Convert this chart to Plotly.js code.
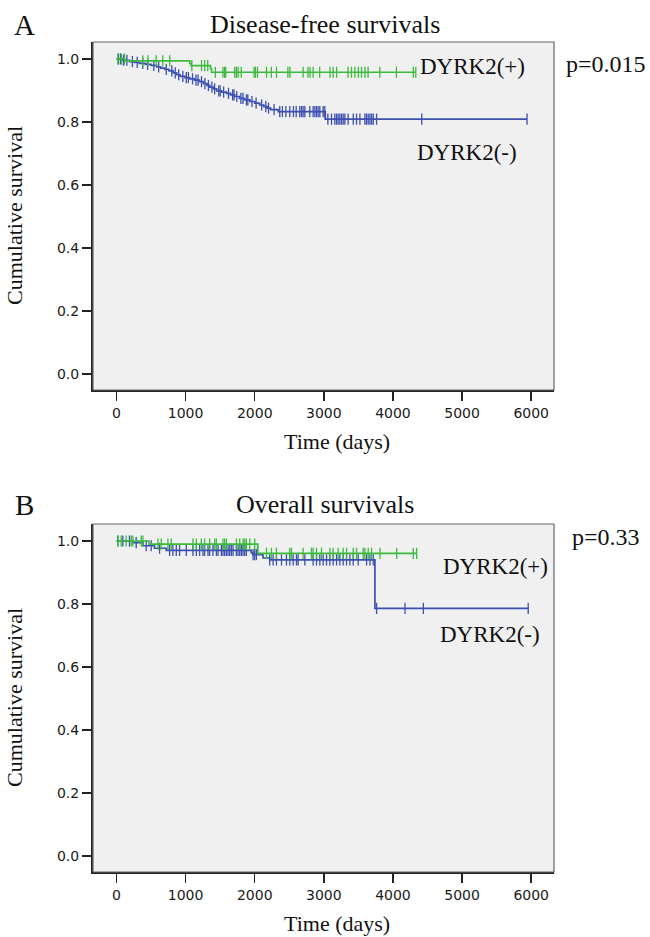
<!DOCTYPE html>
<html>
<head>
<meta charset="utf-8">
<script src="https://cdn.plot.ly/plotly-3.0.1.min.js"></script>
<style>html,body{margin:0;padding:0;background:#fff;}#chart{width:650px;height:937px;}</style>
</head>
<body>
<div id="chart"></div>
<script>
// ---------- DATA ----------
// Panel A: Disease-free survival
const dfsPosEventT = [120, 1060, 1080, 1360, 1375];
const dfsPosSurv   = [0.994, 0.986, 0.979, 0.969, 0.958];
const dfsPosCensT  = [20, 70, 115, 380, 455, 575, 670, 770, 1090, 1230, 1275, 1320, 1430, 1540, 1565, 1580, 1710, 1735, 1760, 1805, 1990, 2010, 2040, 2170, 2240, 2315, 2480, 2510, 2700, 2770, 2800, 2845, 2940, 3090, 3135, 3185, 3350, 3400, 3450, 3500, 3545, 3595, 3640, 3810, 4050, 4295, 4330];

const dfsNegEventT = [90, 190, 260, 333, 420, 500, 580, 640, 700, 760, 820, 870, 920, 990, 1060, 1130, 1200, 1260, 1310, 1350, 1400, 1450, 1520, 1590, 1650, 1710, 1780, 1850, 1930, 2000, 2070, 2130, 2180, 2230, 2340, 3020];
const dfsNegSurv   = [0.996, 0.992, 0.989, 0.986, 0.983, 0.980, 0.975, 0.971, 0.967, 0.962, 0.956, 0.950, 0.945, 0.941, 0.937, 0.933, 0.928, 0.922, 0.916, 0.911, 0.905, 0.899, 0.895, 0.891, 0.886, 0.881, 0.875, 0.870, 0.865, 0.860, 0.854, 0.849, 0.844, 0.839, 0.833, 0.809];
const dfsNegCensT  = [30, 60, 100, 150, 230, 300, 380, 450, 540, 610, 720, 800, 850, 900, 960, 1010, 1040, 1100, 1150, 1180, 1230, 1280, 1330, 1380, 1420, 1480, 1500, 1550, 1620, 1680, 1700, 1740, 1800, 1830, 1880, 1900, 1960, 2020, 2100, 2160, 2200, 2280, 2362, 2400, 2450, 2507, 2560, 2600, 2652, 2677, 2700, 2725, 2797, 2845, 2870, 2894, 2918, 2942, 2990, 3014, 3058, 3111, 3159, 3184, 3207, 3232, 3256, 3280, 3304, 3352, 3425, 3473, 3522, 3594, 3618, 3642, 3667, 3691, 3715, 3763, 4416, 5940];

// Panel B: Overall survival
const osPosEventT = [470, 2045];
const osPosSurv   = [0.990, 0.961];
const osPosCensT  = [19, 68, 140, 213, 237, 358, 382, 599, 647, 744, 792, 1106, 1155, 1227, 1275, 1348, 1420, 1445, 1541, 1565, 1590, 1735, 1783, 1831, 1855, 1879, 1928, 2000, 2170, 2242, 2314, 2507, 2531, 2700, 2821, 2845, 2894, 2966, 3087, 3135, 3207, 3280, 3329, 3425, 3473, 3570, 3594, 3642, 3691, 3812, 4054, 4294, 4343];

const osNegEventT = [237, 382, 550, 720, 1950, 1975, 2120, 2217, 3739];
const osNegSurv   = [0.995, 0.985, 0.977, 0.970, 0.962, 0.957, 0.946, 0.940, 0.786];
const osNegCensT  = [19, 92, 188, 285, 430, 502, 623, 768, 816, 865, 913, 1010, 1106, 1155, 1203, 1251, 1275, 1324, 1348, 1396, 1445, 1469, 1517, 1541, 1565, 1590, 1614, 1638, 1662, 1686, 1734, 1759, 1783, 1807, 1831, 1855, 1879, 1976, 2000, 2024, 2217, 2266, 2314, 2387, 2459, 2507, 2556, 2604, 2628, 2725, 2845, 2894, 2942, 2990, 3039, 3087, 3135, 3184, 3232, 3280, 3328, 3377, 3425, 3497, 3618, 3667, 3715, 3763, 4174, 4440, 5957];

const xTickVals = [0, 1000, 2000, 3000, 4000, 5000, 6000];
const yTickVals = [0.0, 0.2, 0.4, 0.6, 0.8, 1.0];
const groupLabels = ['DYRK2(+)', 'DYRK2(-)'];
const panelTitles = ['Disease-free survivals', 'Overall survivals'];
const panelLetters = ['A', 'B'];
const pValues = ['p=0.015', 'p=0.33'];
const xTitle = 'Time (days)';
const yTitle = 'Cumulative survival';

// ---------- helpers ----------
function survAt(evT, surv, t) {
  let s = 1.0;
  for (let i = 0; i < evT.length; i++) { if (evT[i] <= t) s = surv[i]; }
  return s;
}
function curve(evT, surv, censT, color, xa, ya) {
  const tEnd = Math.max(censT[censT.length - 1], evT[evT.length - 1]);
  const xs = [0].concat(evT, [tEnd]);
  const ys = [1.0].concat(surv, [surv[surv.length - 1]]);
  const line = {x: xs, y: ys, mode: 'lines', line: {shape: 'hv', color: color, width: 1.7},
    xaxis: xa, yaxis: ya, hoverinfo: 'skip', showlegend: false};
  const marks = {x: censT, y: censT.map(t => survAt(evT, surv, t)), mode: 'markers',
    marker: {symbol: 'line-ns-open', size: 8, color: color, line: {color: color, width: 1.3}},
    xaxis: xa, yaxis: ya, hoverinfo: 'skip', showlegend: false};
  return [line, marks];
}

const GREEN = '#3cba3c';
const BLUE = '#3d50b2';

const data = [].concat(
  curve(dfsNegEventT, dfsNegSurv, dfsNegCensT, BLUE, 'x', 'y'),
  curve(dfsPosEventT, dfsPosSurv, dfsPosCensT, GREEN, 'x', 'y'),
  curve(osNegEventT, osNegSurv, osNegCensT, BLUE, 'x2', 'y2'),
  curve(osPosEventT, osPosSurv, osPosCensT, GREEN, 'x2', 'y2')
);

const W = 650, H = 937;
const px = v => v / W, py = v => 1 - v / H;

const tickFont = {family: 'DejaVu Sans, Verdana, sans-serif', size: 14, color: '#1a1a1a'};
const serif = 'Liberation Serif, Times New Roman, serif';

function xAxis(anchor) {
  return {domain: [px(93), px(554)], anchor: anchor, range: [-340, 6330],
    tickvals: xTickVals, ticktext: xTickVals.map(String), ticks: 'outside', ticklen: 9, tickwidth: 1.5, tickcolor: '#222',
    showline: true, mirror: false, linecolor: '#222', linewidth: 2, showgrid: false, zeroline: false,
    tickfont: tickFont, fixedrange: true};
}
function yAxis(anchor, top, bottom) {
  return {domain: [py(bottom), py(top)], anchor: anchor, range: [-0.051, 1.054],
    tickvals: yTickVals, ticktext: yTickVals.map(v => v.toFixed(1)), ticks: 'outside', ticklen: 9, tickwidth: 1.5, tickcolor: '#222',
    showline: true, mirror: false, linecolor: '#222', linewidth: 2, showgrid: false, zeroline: false,
    tickfont: tickFont, fixedrange: true};
}

function ann(text, x, y, size, xanchor, extra) {
  return Object.assign({text: text, x: px(x), y: py(y), xref: 'paper', yref: 'paper',
    xanchor: xanchor || 'center', yanchor: 'middle', showarrow: false,
    font: {family: serif, size: size, color: '#111'}}, extra || {});
}

const offB = 482;
const annotations = [
  ann(panelLetters[0], 24, 25, 29),
  ann(panelTitles[0], 325, 24, 26),
  ann(pValues[0], 564, 64, 24, 'left'),
  ann(groupLabels[0], 418, 67, 23, 'left'),
  ann(groupLabels[1], 415, 152, 23, 'left'),
  ann(xTitle, 337, 441, 22),
  ann(yTitle, 14, 216, 22, 'center', {textangle: -90}),

  ann(panelLetters[1], 24, 505, 29),
  ann(panelTitles[1], 325, 504, 26),
  ann(pValues[1], 570, 537, 24, 'left'),
  ann(groupLabels[0], 441, 566, 23, 'left'),
  ann(groupLabels[1], 438, 634, 23, 'left'),
  ann(xTitle, 337, 441 + offB, 22),
  ann(yTitle, 14, 216 + offB, 22, 'center', {textangle: -90})
];

const frame = (xa, ya) => ({type: 'rect', xref: xa + ' domain', yref: ya + ' domain', x0: 0, x1: 1, y0: 0, y1: 1,
  line: {color: '#666', width: 1.2}, layer: 'above'});

const layout = {
  width: W, height: H, margin: {l: 0, r: 0, t: 0, b: 0},
  paper_bgcolor: '#ffffff', plot_bgcolor: '#f0f0f0',
  showlegend: false,
  xaxis: xAxis('y'), yaxis: yAxis('x', 42, 390),
  xaxis2: xAxis('y2'), yaxis2: yAxis('x2', 42 + offB, 390 + offB),
  shapes: [frame('x', 'y'), frame('x2', 'y2')],
  annotations: annotations
};

Plotly.newPlot('chart', data, layout, {staticPlot: true, displayModeBar: false});
</script>
</body>
</html>
